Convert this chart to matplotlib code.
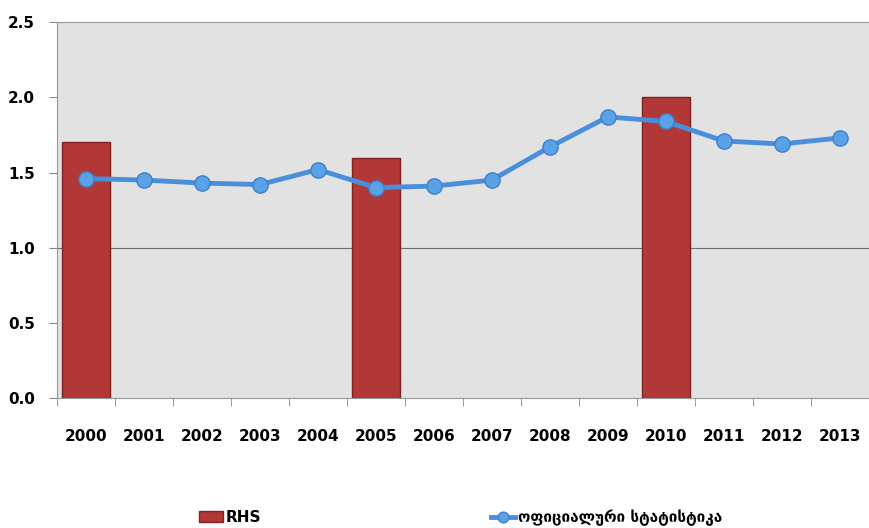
import matplotlib.pyplot as plt
import numpy as np

years = ['2000', '2001', '2002', '2003', '2004', '2005', '2006',
         '2007', '2008', '2009', '2010', '2011', '2012', '2013']
rhs = [1.7, None, None, None, None, 1.6, None, None, None, None, 2.0, None, None, None]
official = [1.46, 1.45, 1.43, 1.42, 1.52, 1.40, 1.41,
            1.45, 1.67, 1.87, 1.84, 1.71, 1.69, 1.73]
line_label = 'ოფიციალური სტატისტიკა'
bar_label = 'RHS'

fig = plt.figure(figsize=(8.69, 5.28), dpi=100)
ax = fig.add_axes([0.0656, 0.246, 0.934, 0.712])
ax.set_facecolor('#e2e2e2')

x = np.arange(len(years))
rhs_vals = np.array([np.nan if v is None else v for v in rhs])
bars = ax.bar(x, rhs_vals, width=0.83, color='#b23838', edgecolor='#7e2222',
              linewidth=1, label=bar_label, zorder=2)
line, = ax.plot(x, official, color='#4a8fdc', lw=3.5, marker='o', ms=11,
                mfc='#5aa2e8', mec='#3f7fc8', mew=1, label=line_label, zorder=3)

ax.axhline(1.0, color='#707070', lw=0.8, zorder=1)

ax.set_xlim(-0.5, len(years) - 0.5)
ax.set_ylim(0, 2.5)
ax.set_yticks([0, 0.5, 1.0, 1.5, 2.0, 2.5])
ax.set_yticklabels(['0.0', '0.5', '1.0', '1.5', '2.0', '2.5'],
                   fontsize=11, fontweight='bold')
ax.set_xticks(x)
ax.set_xticklabels(years, fontsize=11, fontweight='bold')
ax.set_xticks(np.arange(-0.5, len(years), 1), minor=True)
ax.tick_params(axis='x', which='major', length=0, pad=22)
ax.tick_params(axis='x', which='minor', length=6, color='#888888')
ax.tick_params(axis='y', length=6, color='#888888', pad=10)

ax.spines['right'].set_visible(False)
for side in ['top', 'left', 'bottom']:
    ax.spines[side].set_color('#999999')

fig.legend(handles=[bars, line], labels=[bar_label, line_label],
           loc='center', bbox_to_anchor=(0.53, 0.02), ncol=2, frameon=False,
           columnspacing=15, handlelength=1.6, handletextpad=0.2,
           markerscale=0.7, prop={'size': 11, 'weight': 'bold'})

fig.savefig('out.png', dpi=100)
